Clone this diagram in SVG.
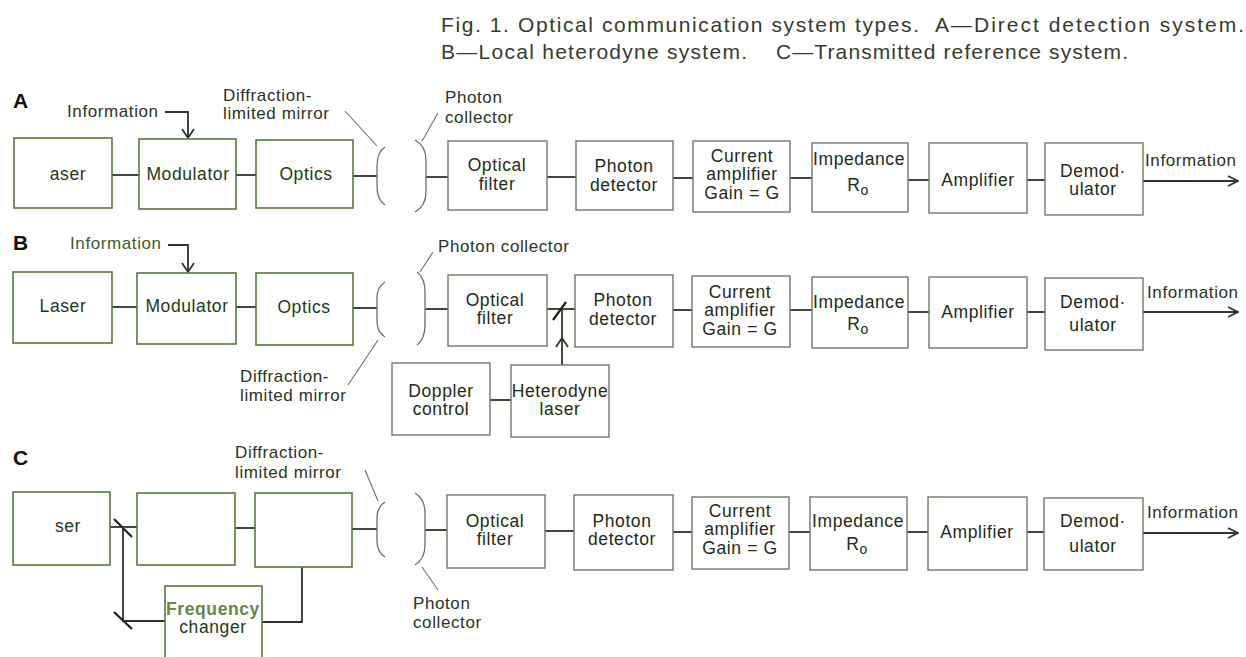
<svg xmlns="http://www.w3.org/2000/svg" width="1246" height="657" viewBox="0 0 1246 657">
<defs>
<style>
.bg{fill:#ffffff}
.bl{fill:#ffffff;stroke:#557a38;stroke-width:1.6}
.br{fill:#ffffff;stroke:#6f7a66;stroke-width:1.4}
.t{font-family:"Liberation Sans",Arial,sans-serif;font-size:17.5px;letter-spacing:0.6px;fill:#1f2a18;text-anchor:middle}
.tg{fill:#223a14}
.lab{font-family:"Liberation Sans",Arial,sans-serif;font-size:17px;letter-spacing:0.6px;fill:#2a3322}
.labg{fill:#3d5a2a}
.big{font-family:"Liberation Sans",Arial,sans-serif;font-size:21px;font-weight:bold;fill:#111}
.title{font-family:"Liberation Sans Narrow","Liberation Sans",Arial,sans-serif;font-size:21px;fill:#363b2e}
.ln{fill:none;stroke:#2e3428;stroke-width:1.8}
.lead{fill:none;stroke:#6a7068;stroke-width:1.1}
.mir{fill:none;stroke:#6a7068;stroke-width:1.3}
.spl{fill:none;stroke:#1e2218;stroke-width:2.2}
.ah{fill:none;stroke:#2e3428;stroke-width:1.8}
</style>
<marker id="open" viewBox="0 0 12 12" refX="11" refY="6" markerWidth="12" markerHeight="12" markerUnits="userSpaceOnUse" orient="auto">
<polyline points="1,1 11,6 1,11" fill="none" stroke="#2e3428" stroke-width="1.8"/>
</marker>
</defs>
<rect class="bg" x="0" y="0" width="1246" height="657"/>

<g id="title">
<text class="title" y="32"><tspan x="441" textLength="478" lengthAdjust="spacing">Fig. 1. Optical communication system types.</tspan><tspan x="935" textLength="309" lengthAdjust="spacing">A—Direct detection system.</tspan></text>
<text class="title" y="59"><tspan x="441" textLength="306" lengthAdjust="spacing">B—Local heterodyne system.</tspan><tspan x="776" textLength="352" lengthAdjust="spacing">C—Transmitted reference system.</tspan></text>
</g>

<g id="labels">
<text class="big" x="13" y="108">A</text>
<text class="big" x="13" y="250">B</text>
<text class="big" x="13" y="465">C</text>
<text class="lab" x="67" y="117">Information</text>
<text class="lab" x="223" y="101">Diffraction-</text>
<text class="lab" x="223" y="119">limited mirror</text>
<text class="lab" x="445" y="103">Photon</text>
<text class="lab" x="445" y="123">collector</text>
<text class="lab" x="1145" y="166">Information</text>
<text class="lab labg" x="70" y="249">Information</text>
<text class="lab" x="438" y="252">Photon collector</text>
<text class="lab" x="240" y="382">Diffraction-</text>
<text class="lab" x="240" y="401">limited mirror</text>
<text class="lab" x="1147" y="298">Information</text>
<text class="lab" x="235" y="458">Diffraction-</text>
<text class="lab" x="235" y="478">limited mirror</text>
<text class="lab" x="413" y="609">Photon</text>
<text class="lab" x="413" y="628">collector</text>
<text class="lab" x="1147" y="518">Information</text>
</g>

<g id="connectors">
<!-- Row A -->
<polyline class="ln" points="165,112 188,112 188,137"/>
<polyline class="ah" points="182,129 188,138 194,129"/>
<line class="ln" x1="112" y1="175" x2="139" y2="175"/>
<line class="ln" x1="236" y1="175" x2="256" y2="175"/>
<line class="ln" x1="353" y1="176" x2="377" y2="176"/>
<line class="ln" x1="426" y1="177" x2="448" y2="177"/>
<line class="ln" x1="547" y1="177" x2="576" y2="177"/>
<line class="ln" x1="673" y1="178" x2="693" y2="178"/>
<line class="ln" x1="790" y1="178" x2="812" y2="178"/>
<line class="ln" x1="908" y1="180" x2="929" y2="180"/>
<line class="ln" x1="1027" y1="180" x2="1045" y2="180"/>
<line class="ln" x1="1143" y1="181" x2="1238" y2="181" marker-end="url(#open)"/>
<path class="lead" d="M345,111 L377,146"/>
<path class="lead" d="M422,141 L438,113"/>
<path class="mir" d="M385,147 Q377,152 377,166 L377,186 Q377,200 385,205"/>
<path class="mir" d="M415,140 Q426,146 426,160 L426,192 Q426,206 415,212"/>
<!-- Row B -->
<polyline class="ln" points="168,245 188,245 188,271"/>
<polyline class="ah" points="182,263 188,272 194,263"/>
<line class="ln" x1="112" y1="307" x2="137" y2="307"/>
<line class="ln" x1="236" y1="307" x2="256" y2="307"/>
<line class="ln" x1="353" y1="308" x2="377" y2="308"/>
<line class="ln" x1="425" y1="309" x2="448" y2="309"/>
<line class="ln" x1="547" y1="309" x2="575" y2="309"/>
<line class="spl" x1="553" y1="320" x2="566" y2="302"/>
<line class="ln" x1="562" y1="365" x2="562" y2="310"/>
<polyline class="ah" points="556,347 562,338 568,347"/>
<line class="ln" x1="490" y1="400" x2="511" y2="400"/>
<line class="ln" x1="673" y1="310" x2="692" y2="310"/>
<line class="ln" x1="790" y1="310" x2="812" y2="310"/>
<line class="ln" x1="908" y1="312" x2="929" y2="312"/>
<line class="ln" x1="1027" y1="312" x2="1045" y2="312"/>
<line class="ln" x1="1143" y1="312" x2="1238" y2="312" marker-end="url(#open)"/>
<path class="lead" d="M348,385 L378,340"/>
<path class="lead" d="M420,272 L433,252"/>
<path class="mir" d="M385,282 Q377,287 377,298 L377,321 Q377,332 385,337"/>
<path class="mir" d="M417,272 Q425,278 425,292 L425,325 Q425,339 417,345"/>
<!-- Row C -->
<line class="ln" x1="110" y1="527" x2="137" y2="527"/>
<line class="spl" x1="114" y1="519" x2="132" y2="537"/>
<polyline class="ln" points="123,527 123,621 165,621"/>
<line class="spl" x1="114" y1="612" x2="132" y2="629"/>
<polyline class="ln" points="262,622 302,622 302,567"/>
<line class="ln" x1="235" y1="528" x2="255" y2="528"/>
<line class="ln" x1="352" y1="529" x2="377" y2="529"/>
<line class="ln" x1="425" y1="530" x2="447" y2="530"/>
<line class="ln" x1="545" y1="531" x2="574" y2="531"/>
<line class="ln" x1="673" y1="532" x2="692" y2="532"/>
<line class="ln" x1="789" y1="532" x2="810" y2="532"/>
<line class="ln" x1="907" y1="532" x2="928" y2="532"/>
<line class="ln" x1="1027" y1="532" x2="1044" y2="532"/>
<line class="ln" x1="1143" y1="533" x2="1238" y2="533" marker-end="url(#open)"/>
<path class="lead" d="M365,470 L378,501"/>
<path class="lead" d="M422,567 L438,590"/>
<path class="mir" d="M385,502 Q377,507 377,518 L377,541 Q377,552 385,557"/>
<path class="mir" d="M415,493 Q425,499 425,513 L425,545 Q425,559 415,565"/>
</g>

<!-- Row A nodes -->
<g id="a-laser"><rect class="bl" x="14" y="138" width="98" height="70"/><text class="t tg" x="68" y="180">aser</text></g>
<g id="a-modulator"><rect class="bl" x="139" y="139" width="97" height="70"/><text class="t tg" x="188" y="180">Modulator</text></g>
<g id="a-optics"><rect class="bl" x="256" y="140" width="97" height="68"/><text class="t tg" x="306" y="180">Optics</text></g>
<g id="a-filter"><rect class="br" x="448" y="141" width="99" height="69"/><text class="t" x="497" y="171">Optical</text><text class="t" x="497" y="190">filter</text></g>
<g id="a-detector"><rect class="br" x="576" y="141" width="97" height="69"/><text class="t" x="624" y="172">Photon</text><text class="t" x="624" y="191">detector</text></g>
<g id="a-current"><rect class="br" x="693" y="141" width="97" height="71"/><text class="t" x="742" y="162">Current</text><text class="t" x="742" y="180">amplifier</text><text class="t" x="742" y="199">Gain = G</text></g>
<g id="a-impedance"><rect class="br" x="812" y="143" width="96" height="69"/><text class="t" x="859" y="165">Impedance</text><text class="t" x="858" y="191">R<tspan font-size="14" dy="4">o</tspan></text></g>
<g id="a-amplifier"><rect class="br" x="929" y="143" width="98" height="70"/><text class="t" x="978" y="186">Amplifier</text></g>
<g id="a-demod"><rect class="br" x="1045" y="143" width="98" height="72"/><text class="t" x="1093" y="177">Demod·</text><text class="t" x="1093" y="195">ulator</text></g>

<!-- Row B nodes -->
<g id="b-laser"><rect class="bl" x="13" y="272" width="99" height="71"/><text class="t tg" x="63" y="312">Laser</text></g>
<g id="b-modulator"><rect class="bl" x="137" y="273" width="99" height="71"/><text class="t tg" x="187" y="312">Modulator</text></g>
<g id="b-optics"><rect class="bl" x="256" y="273" width="97" height="72"/><text class="t tg" x="304" y="313">Optics</text></g>
<g id="b-filter"><rect class="br" x="448" y="275" width="99" height="71"/><text class="t" x="495" y="306">Optical</text><text class="t" x="495" y="324">filter</text></g>
<g id="b-detector"><rect class="br" x="575" y="275" width="98" height="72"/><text class="t" x="623" y="306">Photon</text><text class="t" x="623" y="325">detector</text></g>
<g id="b-current"><rect class="br" x="692" y="276" width="98" height="71"/><text class="t" x="740" y="298">Current</text><text class="t" x="740" y="316">amplifier</text><text class="t" x="740" y="335">Gain = G</text></g>
<g id="b-impedance"><rect class="br" x="812" y="277" width="96" height="71"/><text class="t" x="859" y="308">Impedance</text><text class="t" x="858" y="330">R<tspan font-size="14" dy="4">o</tspan></text></g>
<g id="b-amplifier"><rect class="br" x="929" y="277" width="98" height="71"/><text class="t" x="978" y="318">Amplifier</text></g>
<g id="b-demod"><rect class="br" x="1045" y="278" width="98" height="72"/><text class="t" x="1093" y="308">Demod·</text><text class="t" x="1093" y="331">ulator</text></g>
<g id="b-doppler"><rect class="br" x="392" y="363" width="98" height="72"/><text class="t" x="441" y="397">Doppler</text><text class="t" x="441" y="415">control</text></g>
<g id="b-heterodyne"><rect class="br" x="511" y="365" width="98" height="72"/><text class="t" x="560" y="397">Heterodyne</text><text class="t" x="560" y="415">laser</text></g>

<!-- Row C nodes -->
<g id="c-laser"><rect class="bl" x="13" y="492" width="97" height="73"/><text class="t tg" x="68" y="532">ser</text></g>
<g id="c-box2"><rect class="bl" x="137" y="493" width="98" height="72"/></g>
<g id="c-box3"><rect class="bl" x="255" y="493" width="97" height="74"/></g>
<g id="c-frequency"><rect class="bl" x="165" y="586" width="97" height="84"/><text class="t" x="213" y="615" style="fill:#668a44;font-weight:bold">Frequency</text><text class="t tg" x="213" y="633">changer</text></g>
<g id="c-filter"><rect class="br" x="447" y="495" width="98" height="73"/><text class="t" x="495" y="527">Optical</text><text class="t" x="495" y="545">filter</text></g>
<g id="c-detector"><rect class="br" x="574" y="495" width="99" height="75"/><text class="t" x="622" y="527">Photon</text><text class="t" x="622" y="545">detector</text></g>
<g id="c-current"><rect class="br" x="692" y="497" width="97" height="72"/><text class="t" x="740" y="517">Current</text><text class="t" x="740" y="535">amplifier</text><text class="t" x="740" y="554">Gain = G</text></g>
<g id="c-impedance"><rect class="br" x="810" y="497" width="97" height="73"/><text class="t" x="858" y="527">Impedance</text><text class="t" x="857" y="550">R<tspan font-size="14" dy="4">o</tspan></text></g>
<g id="c-amplifier"><rect class="br" x="928" y="497" width="99" height="73"/><text class="t" x="977" y="538">Amplifier</text></g>
<g id="c-demod"><rect class="br" x="1044" y="498" width="99" height="72"/><text class="t" x="1093" y="527">Demod·</text><text class="t" x="1093" y="552">ulator</text></g>
</svg>
